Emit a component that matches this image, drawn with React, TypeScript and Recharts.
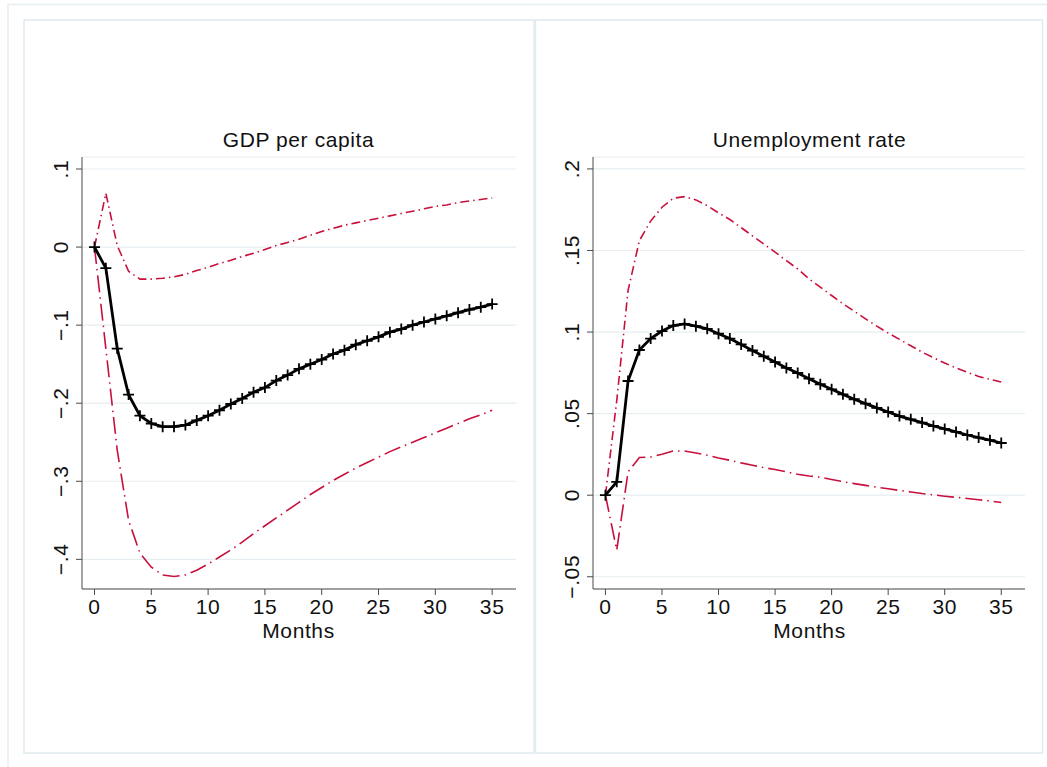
import React from 'react';
import { LineChart, Line, XAxis, YAxis, CartesianGrid } from 'recharts';

const months = Array.from({ length: 36 }, (_, i) => i);

const gdpIrf = [0, -0.027, -0.130, -0.189, -0.216, -0.226, -0.230, -0.230, -0.228, -0.222,
  -0.216, -0.209, -0.201, -0.194, -0.186, -0.180, -0.171, -0.164, -0.156, -0.150,
  -0.144, -0.137, -0.132, -0.125, -0.120, -0.115, -0.109, -0.105, -0.100, -0.096,
  -0.092, -0.088, -0.084, -0.080, -0.077, -0.073];
const gdpUpper = [0, 0.069, 0.002, -0.031, -0.041, -0.041, -0.040, -0.038, -0.035, -0.030,
  -0.026, -0.021, -0.017, -0.012, -0.008, -0.003, 0.002, 0.006, 0.010, 0.015,
  0.020, 0.024, 0.028, 0.031, 0.034, 0.037, 0.040, 0.043, 0.046, 0.049,
  0.052, 0.054, 0.057, 0.059, 0.061, 0.063];
const gdpLower = [0, -0.13, -0.26, -0.35, -0.392, -0.41, -0.42, -0.422, -0.42, -0.414,
  -0.406, -0.397, -0.388, -0.378, -0.367, -0.357, -0.347, -0.337, -0.327, -0.317,
  -0.308, -0.299, -0.291, -0.283, -0.276, -0.269, -0.262, -0.256, -0.250, -0.244,
  -0.238, -0.232, -0.226, -0.220, -0.215, -0.209];

const unempIrf = [0, 0.0082, 0.070, 0.089, 0.096, 0.1006, 0.104, 0.105, 0.1036, 0.102,
  0.099, 0.096, 0.0924, 0.0887, 0.0851, 0.0816, 0.078, 0.0749, 0.0714, 0.068,
  0.0649, 0.0618, 0.0588, 0.0561, 0.0535, 0.051, 0.0485, 0.0465, 0.0445, 0.0424,
  0.0406, 0.0388, 0.0369, 0.0353, 0.0337, 0.032];
const unempUpper = [0, 0.058, 0.1255, 0.156, 0.168, 0.1765, 0.182, 0.183, 0.181, 0.1775,
  0.173, 0.169, 0.164, 0.159, 0.154, 0.149, 0.1438, 0.1387, 0.1326, 0.1275,
  0.1224, 0.1173, 0.1128, 0.1081, 0.1036, 0.0994, 0.0955, 0.0916, 0.0877, 0.0843,
  0.081, 0.078, 0.0753, 0.0728, 0.071, 0.0694];
const unempLower = [0, -0.0337, 0.0143, 0.0231, 0.0234, 0.0251, 0.0271, 0.0271, 0.0259, 0.0245,
  0.0228, 0.0214, 0.0198, 0.0184, 0.0169, 0.0157, 0.0143, 0.0128, 0.0118, 0.011,
  0.0096, 0.0083, 0.0071, 0.006, 0.0049, 0.0039, 0.0029, 0.002, 0.001, 0.0002,
  -0.0006, -0.0013, -0.002, -0.0028, -0.0035, -0.0045];

const xTicks = [0, 5, 10, 15, 20, 25, 30, 35];
const gdpTicks = [-0.4, -0.3, -0.2, -0.1, 0, 0.1];
const gdpTickLabels = ['\u2212.4', '\u2212.3', '\u2212.2', '\u2212.1', '0', '.1'];
const unempTicks = [-0.05, 0, 0.05, 0.1, 0.15, 0.2];
const unempTickLabels = ['\u2212.05', '0', '.05', '.1', '.15', '.2'];

const titles = ['GDP per capita', 'Unemployment rate'];
const xLabel = 'Months';

const FONT = '"Liberation Sans", Arial, Helvetica, sans-serif';
const FS = 21;
const LS = 0.6;
const RED = '#c8103c';
const GRID = '#e6eef1';
const AXIS = '#4a4a4a';

const gdpData = months.map((m, i) => ({ m, irf: gdpIrf[i], up: gdpUpper[i], lo: gdpLower[i] }));
const unempData = months.map((m, i) => ({ m, irf: unempIrf[i], up: unempUpper[i], lo: unempLower[i] }));

const CrossDot = (props: any) => {
  const { cx, cy, index } = props;
  if (cx == null || cy == null) return <g key={`e${index}`} />;
  return (
    <path key={`c${index}`} d={`M${cx - 5.5},${cy}h11M${cx},${cy - 5.5}v11`} stroke="#000" strokeWidth={1.8} fill="none" />
  );
};

const makeYTick = (ticks: number[], labels: string[]) => (props: any) => {
  const { x, y, payload } = props;
  const idx = ticks.findIndex((t) => Math.abs(t - payload.value) < 1e-9);
  const label = idx >= 0 ? labels[idx] : String(payload.value);
  const cx = x - 13;
  return (
    <text x={cx} y={y} transform={`rotate(-90, ${cx}, ${y})`} textAnchor="middle" dominantBaseline="central"
      fontFamily={FONT} fontSize={FS} letterSpacing={LS} fill="#111">{label}</text>
  );
};

const XTick = (props: any) => {
  const { x, y, payload } = props;
  return (
    <text x={x} y={y + 17} textAnchor="middle" fontFamily={FONT} fontSize={FS} letterSpacing={LS} fill="#111">{payload.value}</text>
  );
};

type PanelProps = {
  data: any[];
  left: number;
  width: number;
  yDomain: [number, number];
  yTicks: number[];
  yLabels: string[];
};

const Panel = ({ data, left, width, yDomain, yTicks, yLabels }: PanelProps) => (
  <div style={{ position: 'absolute', left, top: 20 }}>
    <LineChart width={width} height={733} data={data} margin={{ top: 137, right: 18, bottom: 134, left: 0 }}>
      <CartesianGrid horizontal vertical={false} stroke={GRID} strokeWidth={1.2} />
      <XAxis dataKey="m" type="number" domain={[-1.1, 37.1]} ticks={xTicks} allowDataOverflow
        stroke={AXIS} tickLine={{ stroke: AXIS }} tickSize={6} tick={<XTick />} height={30} interval={0} />
      <YAxis type="number" domain={yDomain} ticks={yTicks} allowDataOverflow width={58}
        stroke={AXIS} tickLine={{ stroke: AXIS }} tickSize={6} tick={makeYTick(yTicks, yLabels)} interval={0} />
      <Line dataKey="up" stroke={RED} strokeWidth={1.6} strokeDasharray="9 4 1.5 4" dot={false} isAnimationActive={false} type="linear" />
      <Line dataKey="lo" stroke={RED} strokeWidth={1.6} strokeDasharray="17 5 1.5 5" dot={false} isAnimationActive={false} type="linear" />
      <Line dataKey="irf" stroke="#000" strokeWidth={2.8} dot={CrossDot} isAnimationActive={false} type="linear" />
    </LineChart>
  </div>
);

export default function App() {
  return (
    <div style={{ position: 'absolute', left: 0, top: 0, width: 1047, height: 767, background: '#fff', overflow: 'hidden' }}>
      <svg width={1047} height={767} style={{ position: 'absolute', left: 0, top: 0 }}>
        <line x1={8} y1={4.5} x2={1047} y2={4.5} stroke="#e6eef1" strokeWidth={1.5} />
        <line x1={8} y1={4} x2={8} y2={767} stroke="#e6eef1" strokeWidth={1.5} />
        <rect x={24} y={20} width={510} height={733} fill="none" stroke="#e1eaee" strokeWidth={1.5} />
        <rect x={535.5} y={20} width={507} height={733} fill="none" stroke="#e1eaee" strokeWidth={1.5} />
        <text x={298.5} y={147} textAnchor="middle" fontFamily={FONT} fontSize={FS} letterSpacing={LS} fill="#111">{titles[0]}</text>
        <text x={809.5} y={147} textAnchor="middle" fontFamily={FONT} fontSize={FS} letterSpacing={LS} fill="#111">{titles[1]}</text>
        <text x={298.5} y={638} textAnchor="middle" fontFamily={FONT} fontSize={FS} letterSpacing={LS} fill="#111">{xLabel}</text>
        <text x={809.5} y={638} textAnchor="middle" fontFamily={FONT} fontSize={FS} letterSpacing={LS} fill="#111">{xLabel}</text>
      </svg>
      <Panel data={gdpData} left={24} width={510} yDomain={[-0.438, 0.1154]} yTicks={gdpTicks} yLabels={gdpTickLabels} />
      <Panel data={unempData} left={535} width={508} yDomain={[-0.0575, 0.2073]} yTicks={unempTicks} yLabels={unempTickLabels} />
    </div>
  );
}
